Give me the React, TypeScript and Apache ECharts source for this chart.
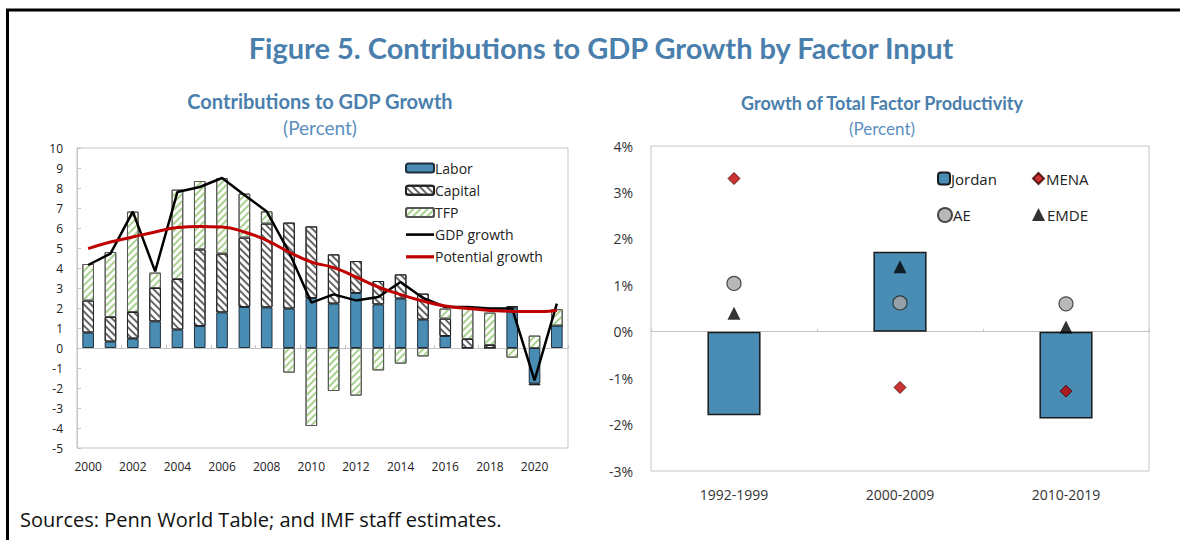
import React, { useEffect, useRef } from "react";
import * as echarts from "echarts";

const years = ["2000","2001","2002","2003","2004","2005","2006","2007","2008","2009","2010","2011","2012","2013","2014","2015","2016","2017","2018","2019","2020","2021"];
const labor = [0.77,0.32,0.47,1.33,0.92,1.1,1.78,2.05,2.03,1.97,2.5,2.22,2.75,2.18,2.47,1.42,0.6,0,0,2.02,-1.78,1.12];
const capital = [1.6,1.23,1.33,1.67,2.53,3.83,2.94,3.47,4.19,4.3,3.58,2.46,1.6,1.17,1.21,1.3,0.87,0.45,0.15,0.08,-0.08,0];
const tfp = [1.83,3.25,5.02,0.77,4.47,3.42,3.78,2.2,0.61,-1.23,-3.9,-2.15,-2.38,-1.12,-0.78,-0.42,0.5,1.65,1.62,-0.48,0.62,0.82];
const gdpGrowth = [4.15,4.72,6.82,3.83,7.8,8.05,8.5,7.65,6.83,4.8,2.27,2.68,2.38,2.55,3.3,2.5,2.05,2.05,1.97,1.97,-1.62,2.22];
const potentialGrowth = [4.97,5.3,5.55,5.8,6.02,6.08,6.05,5.8,5.38,4.8,4.3,4.02,3.55,3.05,2.67,2.35,2.1,1.98,1.88,1.83,1.82,1.88];

const periods = ["1992-1999","2000-2009","2010-2019"];
const jordan = [-1.8,1.72,-1.87];
const mena = [3.3,-1.2,-1.28];
const ae = [1.04,0.62,0.6];
const emde = [0.4,1.4,0.1];

const BLUE_T = "#4a7fad";
const BLUE_S = "#5b8fc1";
const FONT = "'Open Sans', 'Noto Sans', sans-serif";
const TFONT = "Lato, 'Open Sans', sans-serif";

export default function App() {
  const ref = useRef<HTMLDivElement>(null);
  useEffect(() => {
    document.body.style.margin = "0";
    const chart = echarts.init(ref.current!, null, { renderer: "svg" });
    const gridLine = "#c4c4c4";
    const option: any = {
      animation: false,
      backgroundColor: "#fff",
      textStyle: { fontFamily: FONT },
      grid: [
        { left: 77, top: 148, width: 491, height: 300, show: true, borderColor: gridLine, borderWidth: 1, backgroundColor: "transparent" },
        { left: 651, top: 146, width: 498, height: 325, show: true, borderColor: gridLine, borderWidth: 1, backgroundColor: "transparent" },
      ],
      xAxis: [
        { type: "category", gridIndex: 0, data: years, position: "bottom",
          axisLine: { show: false, onZero: false }, axisTick: { show: false },
          axisLabel: { interval: 1, color: "#222", fontSize: 12, margin: 12, fontFamily: FONT } },
        { type: "category", gridIndex: 0, data: years, position: "bottom",
          axisLine: { show: true, onZero: true, lineStyle: { color: gridLine, width: 1 } },
          axisTick: { show: true, interval: 1, length: 3, inside: true, lineStyle: { color: gridLine } },
          axisLabel: { show: false } },
        { type: "category", gridIndex: 1, data: periods, position: "bottom",
          axisLine: { show: false, onZero: false }, axisTick: { show: false },
          axisLabel: { color: "#333", fontSize: 14, margin: 16, fontFamily: FONT } },
        { type: "category", gridIndex: 1, data: periods, position: "bottom",
          axisLine: { show: true, onZero: true, lineStyle: { color: gridLine, width: 1 } },
          axisTick: { show: true, length: 3, inside: true, lineStyle: { color: gridLine } },
          axisLabel: { show: false } },
      ],
      yAxis: [
        { type: "value", gridIndex: 0, min: -5, max: 10, interval: 1,
          axisLine: { show: true, lineStyle: { color: gridLine } },
          axisTick: { show: true, inside: true, length: 4, lineStyle: { color: gridLine } },
          splitLine: { show: false },
          axisLabel: { color: "#222", fontSize: 12, margin: 14, fontFamily: FONT } },
        { type: "value", gridIndex: 1, min: -3, max: 4, interval: 1,
          axisLine: { show: false }, axisTick: { show: false }, splitLine: { show: false },
          axisLabel: { color: "#333", fontSize: 14, margin: 18, fontFamily: FONT, formatter: (v: number) => v + "%" } },
      ],
      legend: [
        { left: 400, top: 156, orient: "vertical", itemWidth: 28, itemHeight: 9, itemGap: 8.2,
          textStyle: { fontSize: 14, color: "#222", fontFamily: FONT, padding: [0, 0, 0, -4] },
          data: ["Labor", "Capital", "TFP",
            { name: "GDP growth", icon: "path://M0,0H28V2.6H0Z" },
            { name: "Potential growth", icon: "path://M0,0H28V3.2H0Z" }] },
        { left: 932, top: 166, itemWidth: 12, itemHeight: 12, textStyle: { fontSize: 15, color: "#222", fontFamily: FONT, padding: [0,0,0,-4] }, data: ["Jordan"] },
        { left: 1027, top: 166, itemWidth: 11, itemHeight: 11, textStyle: { fontSize: 15, color: "#222", fontFamily: FONT, padding: [0,0,0,-3] }, data: ["MENA"] },
        { left: 932, top: 202, itemWidth: 14, itemHeight: 14, textStyle: { fontSize: 15, color: "#222", fontFamily: FONT, padding: [0,0,0,-4] }, data: ["AE"] },
        { left: 1027, top: 202, itemWidth: 13, itemHeight: 13, textStyle: { fontSize: 15, color: "#222", fontFamily: FONT, padding: [0,0,0,-3] }, data: ["EMDE"] },
      ],
      series: [
        { name: "Labor", type: "bar", xAxisIndex: 0, yAxisIndex: 0, stack: "c", data: labor, barWidth: "52%",
          itemStyle: { color: "#4a8db4", borderColor: "#1f2f3c", borderWidth: 1 } },
        { name: "Capital", type: "bar", xAxisIndex: 0, yAxisIndex: 0, stack: "c", data: capital, barWidth: "52%",
          itemStyle: { color: "#ffffff", borderColor: "#222", borderWidth: 1,
            decal: { symbol: "rect", symbolSize: 1, dashArrayX: [1, 0], dashArrayY: [1.4, 2.6], rotation: Math.PI / 4, color: "#666" } } },
        { name: "TFP", type: "bar", xAxisIndex: 0, yAxisIndex: 0, stack: "c", data: tfp, barWidth: "52%",
          itemStyle: { color: "#ffffff", borderColor: "#555", borderWidth: 1,
            decal: { symbol: "rect", symbolSize: 1, dashArrayX: [1, 0], dashArrayY: [2, 3], rotation: -Math.PI / 4, color: "#a9d18e" } } },
        { name: "GDP growth", type: "line", xAxisIndex: 0, yAxisIndex: 0, data: gdpGrowth, symbol: "none",
          lineStyle: { color: "#000", width: 2.5 }, itemStyle: { color: "#000" }, z: 5 },
        { name: "Potential growth", type: "line", xAxisIndex: 0, yAxisIndex: 0, data: potentialGrowth, symbol: "none", smooth: true,
          lineStyle: { color: "#c00000", width: 3 }, itemStyle: { color: "#c00000" }, z: 6 },
        { name: "Jordan", type: "bar", xAxisIndex: 2, yAxisIndex: 1, data: jordan, barWidth: "32%",
          itemStyle: { color: "#4a8db4", borderColor: "#1a1a1a", borderWidth: 1.5 } },
        { name: "MENA", type: "scatter", xAxisIndex: 2, yAxisIndex: 1, data: mena, symbol: "diamond", symbolSize: 12,
          itemStyle: { color: "#c00000", borderColor: "#3a0000", borderWidth: 1 }, z: 5 },
        { name: "AE", type: "scatter", xAxisIndex: 2, yAxisIndex: 1, data: ae, symbol: "circle", symbolSize: 14,
          itemStyle: { color: "#a6a6a6", borderColor: "#222", borderWidth: 1.2 }, z: 5 },
        { name: "EMDE", type: "scatter", xAxisIndex: 2, yAxisIndex: 1, data: emde, symbol: "triangle", symbolSize: 13,
          itemStyle: { color: "#000" }, z: 5 },
      ],
      graphic: [
        { type: "rect", shape: { x: 7.5, y: 10, width: 1300, height: 700 }, style: { fill: "none", stroke: "#000", lineWidth: 3 }, silent: true },
        { type: "text", x: 601, y: 47, style: { text: "Figure 5. Contributions to GDP Growth by Factor Input", fill: BLUE_T, font: `bold 29px ${TFONT}`, textAlign: "center", textVerticalAlign: "middle" } },
        { type: "text", x: 320, y: 101, style: { text: "Contributions to GDP Growth", fill: BLUE_T, font: `bold 20px ${TFONT}`, textAlign: "center", textVerticalAlign: "middle" } },
        { type: "text", x: 320, y: 127, style: { text: "(Percent)", fill: BLUE_S, font: `19px ${TFONT}`, textAlign: "center", textVerticalAlign: "middle" } },
        { type: "text", x: 882, y: 103, style: { text: "Growth of Total Factor Productivity", fill: BLUE_T, font: `bold 18px ${TFONT}`, textAlign: "center", textVerticalAlign: "middle" } },
        { type: "text", x: 882, y: 128, style: { text: "(Percent)", fill: BLUE_S, font: `17px ${TFONT}`, textAlign: "center", textVerticalAlign: "middle" } },
        { type: "text", x: 20, y: 519, style: { text: "Sources: Penn World Table; and IMF staff estimates.", fill: "#111", font: `20px ${FONT}`, textAlign: "left", textVerticalAlign: "middle" } },
      ],
    };
    chart.setOption(option);
    return () => chart.dispose();
  }, []);
  return <div ref={ref} style={{ width: 1180, height: 540 }} />;
}
